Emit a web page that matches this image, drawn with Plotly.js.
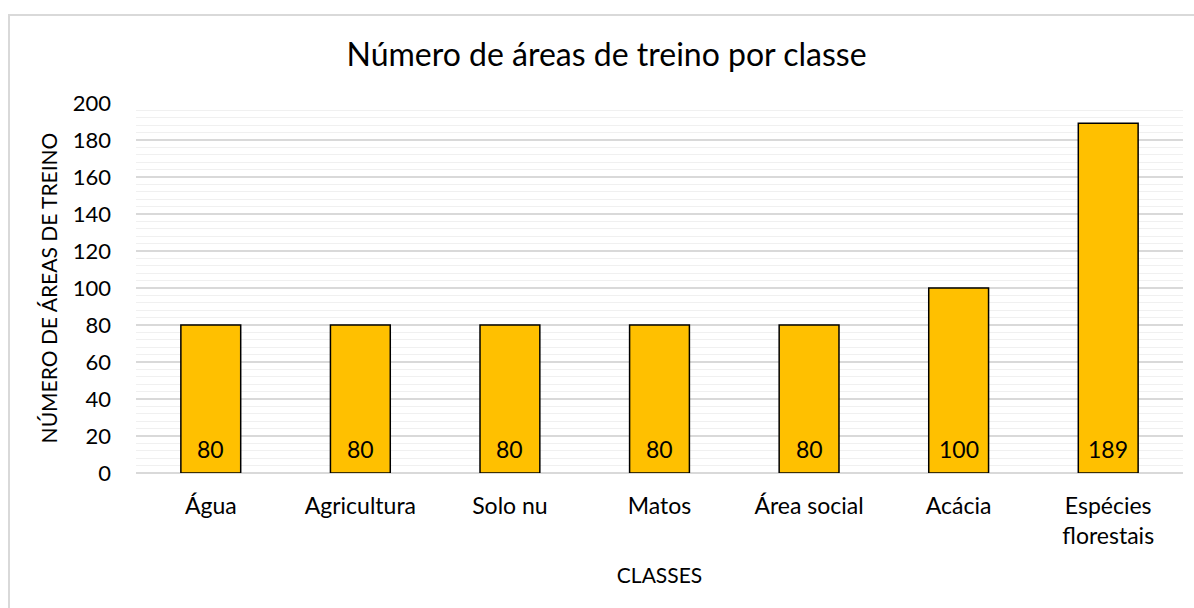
<!DOCTYPE html>
<html>
<head>
<meta charset="utf-8">
<script src="https://cdn.plot.ly/plotly-3.0.1.min.js"></script>
<style>html,body{margin:0;padding:0;background:#fff;}#chart{width:1194px;height:608px;}</style>
</head>
<body>
<div id="chart"></div>
<script>
const categories = ["Água", "Agricultura", "Solo nu", "Matos", "Área social", "Acácia", "Espécies<br>florestais"];
const values = [80, 80, 80, 80, 80, 100, 189];
const yTicks = [0, 20, 40, 60, 80, 100, 120, 140, 160, 180, 200];

const FONT = "Lato, 'Open Sans', sans-serif";

const trace = {
  type: "bar",
  x: categories,
  y: values,
  marker: { color: "#FFC000", line: { color: "#000000", width: 1.5 } },
  hoverinfo: "x+y"
};

const annotations = categories.map((c, i) => ({
  x: c, y: 0, xref: "x", yref: "y",
  text: String(values[i]),
  showarrow: false, yanchor: "bottom", yshift: 8,
  font: { family: FONT, size: 23, color: "#000" }
}));

const layout = {
  width: 1194, height: 608,
  margin: { l: 136, r: 11, t: 103, b: 135 },
  paper_bgcolor: "#fff", plot_bgcolor: "#fff",
  bargap: 0.6,
  showlegend: false,
  font: { family: FONT, color: "#000" },
  title: {
    text: "Número de áreas de treino por classe",
    font: { family: FONT, size: 32, color: "#000" },
    x: 0.508, xanchor: "center", y: 1 - 55 / 608, yanchor: "middle", yref: "container"
  },
  xaxis: {
    type: "category",
    tickfont: { family: FONT, size: 23, color: "#000" },
    ticks: "", showline: false, showgrid: false, zeroline: false,
    ticklabelstandoff: 17,
    title: { text: "CLASSES", font: { family: FONT, size: 21, color: "#000" }, standoff: 20 }
  },
  yaxis: {
    range: [0, 200],
    tickvals: yTicks,
    tickfont: { family: FONT, size: 22, color: "#000" },
    ticks: "", showline: false,
    showgrid: true, gridcolor: "#d9d9d9", gridwidth: 1.3,
    zeroline: true, zerolinecolor: "#d9d9d9", zerolinewidth: 1.5,
    minor: { dtick: 4, showgrid: true, gridcolor: "#f0f0f0", gridwidth: 1.3 },
    ticklabelstandoff: 24,
    title: { text: "NÚMERO DE ÁREAS DE TREINO", font: { family: FONT, size: 21, color: "#000" }, standoff: 9 }
  },
  annotations: annotations,
  shapes: [{
    type: "rect", xref: "paper", yref: "paper",
    x0: -0.1213, x1: 1.03, y0: -0.45, y1: 1.2378,
    line: { color: "#d9d9d9", width: 2 }, fillcolor: "rgba(0,0,0,0)", layer: "below"
  }]
};

Plotly.newPlot("chart", [trace], layout, { displayModeBar: false, staticPlot: true });
</script>
</body>
</html>
